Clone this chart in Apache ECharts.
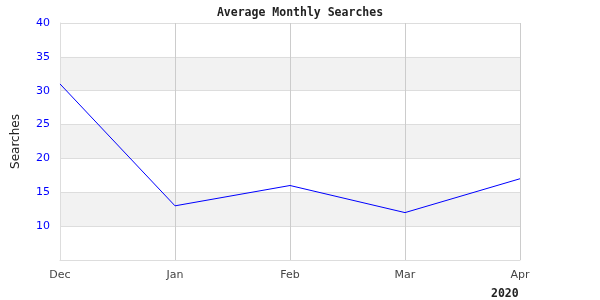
<!DOCTYPE html>
<html>
<head>
<meta charset="utf-8">
<script src="https://cdn.jsdelivr.net/npm/echarts@6/dist/echarts.min.js"></script>
<style>html,body{margin:0;padding:0;background:#fff}#c{width:600px;height:300px}</style>
</head>
<body>
<div id="c"></div>
<script>
var categories = ['Dec', 'Jan', 'Feb', 'Mar', 'Apr'];
var searches = [31, 13, 16, 12, 17];
var yearLabel = '2020';
var titleText = 'Average Monthly Searches';
var yName = 'Searches';

var chart = echarts.init(document.getElementById('c'), null, {renderer: 'canvas'});
chart.setOption({
  animation: false,
  backgroundColor: '#fff',
  title: {
    text: titleText, left: 'center', top: 1,
    textStyle: {fontFamily: 'DejaVu Sans Mono', fontWeight: 'bold', fontSize: 11.5, color: '#222', lineHeight: 14}
  },
  grid: {left: 60, right: 80, top: 23, bottom: 40, containLabel: false, outerBoundsMode: 'none'},
  xAxis: {
    type: 'category', data: categories, boundaryGap: false,
    axisLine: {lineStyle: {color: '#ddd'}},
    axisTick: {show: false},
    axisLabel: {color: '#444', fontFamily: 'DejaVu Sans', fontSize: 11, margin: 10},
    splitLine: {show: true, lineStyle: {color: '#ccc'}}
  },
  yAxis: {
    type: 'value', min: 5, max: 40, interval: 5,
    name: yName, nameLocation: 'middle', nameGap: 38, nameRotate: 90,
    nameTextStyle: {fontFamily: 'DejaVu Sans', fontSize: 12, color: '#222'},
    axisLine: {show: true, lineStyle: {color: '#ddd'}},
    axisTick: {show: false},
    axisLabel: {color: '#0000ff', fontFamily: 'DejaVu Sans', fontSize: 11, margin: 10,
      formatter: function (v) { return v === 5 ? '' : String(v); }},
    splitLine: {show: true, lineStyle: {color: '#ddd'}},
    splitArea: {show: true, areaStyle: {color: ['#ffffff', '#f2f2f2']}}
  },
  graphic: [{
    type: 'text', left: 491, top: 288,
    style: {text: yearLabel, font: 'bold 11.5px "DejaVu Sans Mono"', fill: '#222'}
  }],
  series: [{
    type: 'line', data: searches, symbol: 'none',
    lineStyle: {color: '#0000ff', width: 1}
  }]
});
</script>
</body>
</html>
